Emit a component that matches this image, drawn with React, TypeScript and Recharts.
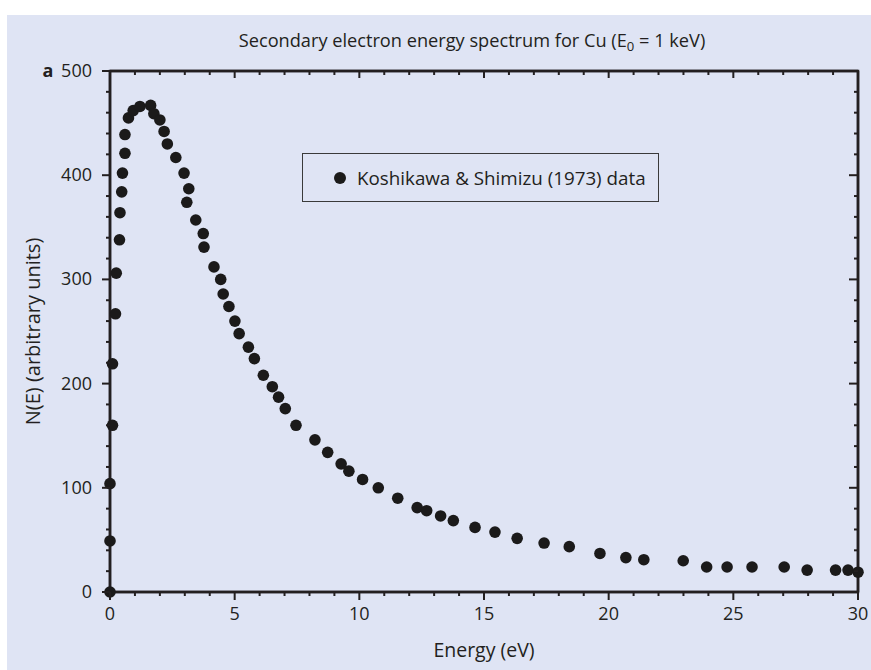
import React from 'react';
import { ScatterChart, Scatter, XAxis, YAxis, Legend, ReferenceArea } from 'recharts';

// ---- data ----
const energy = [0, 0, 0, 0.1, 0.1, 0.22, 0.25, 0.38, 0.4, 0.47, 0.5, 0.6, 0.6, 0.74, 0.93, 1.2, 1.63, 1.76, 2.0, 2.17, 2.3, 2.64, 2.97, 3.16, 3.08, 3.44, 3.74, 3.77, 4.17, 4.44, 4.54, 4.77, 5.01, 5.18, 5.55, 5.79, 6.15, 6.51, 6.76, 7.03, 7.46, 8.22, 8.73, 9.27, 9.58, 10.13, 10.76, 11.54, 12.32, 12.7, 13.26, 13.77, 14.64, 15.44, 16.33, 17.41, 18.42, 19.65, 20.69, 21.41, 22.99, 23.93, 24.75, 25.75, 27.04, 27.96, 29.1, 29.6, 30.0];
const counts = [0, 49, 104, 160, 219, 267, 306, 338, 364, 384, 402, 421, 439, 455, 462, 466, 467, 459, 453, 442, 430, 417, 402, 387, 374, 357, 344, 331, 312, 300, 286, 274, 260, 248, 235, 224, 208, 197, 187, 176, 160, 146, 134, 123, 116, 108, 100, 90, 81, 78, 73, 68.5, 62, 57.5, 51.5, 47, 43.5, 37, 33, 31, 30, 24, 24, 24, 24, 21, 21, 21, 19];

const xTicks = [0, 1, 2, 3, 4, 5, 6, 7, 8, 9, 10, 11, 12, 13, 14, 15, 16, 17, 18, 19, 20, 21, 22, 23, 24, 25, 26, 27, 28, 29, 30];
const xMajorTicks = [0, 5, 10, 15, 20, 25, 30];
const yTicks = [0, 20, 40, 60, 80, 100, 120, 140, 160, 180, 200, 220, 240, 260, 280, 300, 320, 340, 360, 380, 400, 420, 440, 460, 480, 500];
const yMajorTicks = [0, 100, 200, 300, 400, 500];
const xDomain = [0, 30];
const yDomain = [0, 500];

const seriesName = 'Koshikawa & Shimizu (1973) data';
const titleMain = 'Secondary electron energy spectrum for Cu (E';
const titleSub = '0';
const titleEnd = ' = 1 keV)';
const xTitle = 'Energy (eV)';
const yTitle = 'N(E) (arbitrary units)';
const panelLetter = 'a';

const data = energy.map((e, i) => ({ e, n: counts[i] }));

// ---- styles ----
const INK = '#231f20';
const BG = '#dfe4f4';
const FONT = "'Open Sans', sans-serif";
const TICK_FS = 18;

const BottomTick = (props: any) => {
  const { x, y, payload } = props;
  const v = payload.value;
  const major = xMajorTicks.includes(v);
  return (
    <g>
      <line x1={x} x2={x} y1={y} y2={y + (major ? 8 : 4)} stroke={INK} strokeWidth={2} />
      {major && (
        <text x={x} y={y + 28} textAnchor="middle" fontSize={TICK_FS} fill={INK} fontFamily={FONT}>
          {v}
        </text>
      )}
    </g>
  );
};

const TopTick = (props: any) => {
  const { x, y, payload } = props;
  const major = xMajorTicks.includes(payload.value);
  return <line x1={x} x2={x} y1={y} y2={y + (major ? 7 : 4)} stroke={INK} strokeWidth={2} />;
};

const LeftTick = (props: any) => {
  const { x, y, payload } = props;
  const v = payload.value;
  const major = yMajorTicks.includes(v);
  return (
    <g>
      <line x1={x - (major ? 8 : 4)} x2={x} y1={y} y2={y} stroke={INK} strokeWidth={2} />
      {major && (
        <text x={x - 18} y={y + 6} textAnchor="end" fontSize={TICK_FS} fill={INK} fontFamily={FONT}>
          {v}
        </text>
      )}
      {v === 500 && (
        <text x={x - 62} y={y + 6} textAnchor="middle" fontSize={TICK_FS} fontWeight="bold" fill={INK} fontFamily={FONT}>
          {panelLetter}
        </text>
      )}
    </g>
  );
};

const RightTick = (props: any) => {
  const { x, y, payload } = props;
  const major = yMajorTicks.includes(payload.value);
  return <line x1={x - (major ? 9 : 4)} x2={x} y1={y} y2={y} stroke={INK} strokeWidth={2} />;
};

const Dot = (props: any) => {
  const { cx, cy } = props;
  if (cx == null || cy == null) return <g />;
  return <circle cx={cx} cy={cy} r={5.8} fill="#1b1a1a" />;
};

const Empty = () => <g />;

const LegendBox = () => (
  <div
    style={{
      width: 357,
      height: 49,
      border: '1.5px solid #3a3a3a',
      boxSizing: 'border-box',
      display: 'flex',
      alignItems: 'center',
      fontFamily: FONT,
      fontSize: 18.8,
      color: INK,
      whiteSpace: 'nowrap',
    }}
  >
    <svg width={50} height={20} style={{ marginLeft: 14 }}>
      <circle cx={23} cy={10} r={6} fill="#1b1a1a" />
    </svg>
    <span style={{ marginLeft: -10 }}>{seriesName}</span>
  </div>
);

const axisLineStyle = { stroke: INK, strokeWidth: 2.5 };

export default function App() {
  return (
    <div style={{ position: 'absolute', left: 7, top: 15, width: 864, height: 655, background: BG, fontFamily: FONT }}>
      <div
        style={{
          position: 'absolute',
          left: 91,
          width: 748,
          top: 13,
          textAlign: 'center',
          fontSize: 18.2,
          lineHeight: '24px',
          color: INK,
          zIndex: 2,
          whiteSpace: 'nowrap',
        }}
      >
        {titleMain}
        <span style={{ fontSize: '0.72em', position: 'relative', top: '0.3em' }}>{titleSub}</span>
        {titleEnd}
      </div>
      <ScatterChart width={864} height={655} margin={{ top: 55, right: 12, bottom: 0, left: 0 }}>
        <XAxis
          xAxisId="b"
          dataKey="e"
          type="number"
          domain={xDomain}
          ticks={xTicks}
          interval={0}
          tickSize={0}
          tickMargin={0}
          tickLine={false}
          axisLine={axisLineStyle}
          tick={BottomTick}
          height={78}
          label={{ value: xTitle, position: 'center', dy: 19, fontSize: 19.5, fill: INK, fontFamily: FONT }}
        />
        <XAxis
          xAxisId="t"
          orientation="top"
          dataKey="e"
          type="number"
          domain={xDomain}
          ticks={xTicks}
          interval={0}
          tickSize={0}
          tickMargin={0}
          tickLine={false}
          axisLine={axisLineStyle}
          tick={TopTick}
          height={1}
        />
        <YAxis
          yAxisId="l"
          dataKey="n"
          type="number"
          domain={yDomain}
          ticks={yTicks}
          interval={0}
          tickSize={0}
          tickMargin={0}
          tickLine={false}
          axisLine={axisLineStyle}
          tick={LeftTick}
          width={103}
          label={{ value: yTitle, angle: -90, position: 'center', dx: -26, fontSize: 20, fill: INK, fontFamily: FONT }}
        />
        <YAxis
          yAxisId="r"
          orientation="right"
          dataKey="n"
          type="number"
          domain={yDomain}
          ticks={yTicks}
          interval={0}
          tickSize={0}
          tickMargin={0}
          tickLine={false}
          axisLine={axisLineStyle}
          tick={RightTick}
          width={1}
        />
        <ReferenceArea
          xAxisId="b"
          yAxisId="l"
          x1={xDomain[0]}
          x2={xDomain[1]}
          y1={yDomain[0]}
          y2={yDomain[1]}
          fill="none"
          fillOpacity={0}
          stroke={INK}
          strokeWidth={2.5}
          strokeOpacity={1}
          ifOverflow="visible"
        />
        <Scatter
          xAxisId="b"
          yAxisId="l"
          name={seriesName}
          data={data}
          shape={Dot}
          isAnimationActive={false}
        />
        <Scatter
          xAxisId="t"
          yAxisId="r"
          data={data}
          shape={Empty}
          legendType="none"
          isAnimationActive={false}
        />
        <Legend
          layout="horizontal"
          align="center"
          verticalAlign="middle"
          content={LegendBox}
          wrapperStyle={{ left: 295, top: 138, width: 357, height: 49 }}
        />
      </ScatterChart>
    </div>
  );
}
